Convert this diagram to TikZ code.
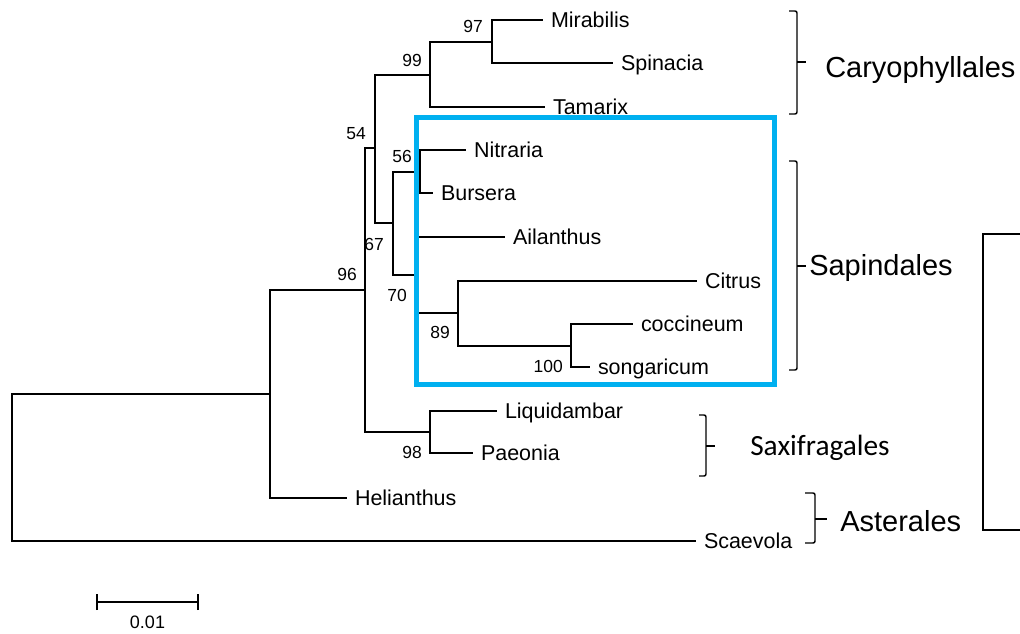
\documentclass[tikz,border=0pt]{standalone}
\usepackage{fontspec}
\setmainfont{Liberation Sans}
\newfontfamily\carl{Carlito}
\definecolor{boxblue}{RGB}{0,176,240}
\begin{document}
\begin{tikzpicture}[x=0.75pt,y=-0.75pt,
  branch/.style={line width=1.1pt, line join=miter},
  brk/.style={line width=1.1pt, rounded corners=1.5pt},
  taxon/.style={anchor=west, inner sep=0pt, xshift=5.8pt, font=\fontsize{16.1}{19}\selectfont, text height=11.5pt, text depth=0pt},
  boot/.style={anchor=east, inner sep=0pt, font=\fontsize{13.1}{15}\selectfont, text height=9.4pt, text depth=0pt},
  clade/.style={anchor=west, inner sep=0pt, font=\fontsize{21.75}{26}\selectfont, text height=15.6pt, text depth=0pt},
  hilite/.style={draw=boxblue, line width=3.75pt}]
\useasboundingbox (0,0) rectangle (1020,633);
% internal nodes
\coordinate (R) at (12,467.5);
\coordinate (A) at (270,394);
\coordinate (B) at (365,290);
\coordinate (C) at (375,148);
\coordinate (D) at (430,432);
\coordinate (J) at (430,75);
\coordinate (K) at (492,42);
\coordinate (E) at (393,223);
\coordinate (F) at (420,172);
\coordinate (G) at (416,275);
\coordinate (H) at (458,313);
\coordinate (I) at (571,346);
% tips
\coordinate (tMir) at (543,20);
\coordinate (tSpi) at (613,63);
\coordinate (tTam) at (545,107);
\coordinate (tNit) at (466,150);
\coordinate (tBur) at (433,193);
\coordinate (tAil) at (505,237);
\coordinate (tCit) at (697,281);
\coordinate (tCoc) at (633,324);
\coordinate (tSon) at (590,367);
\coordinate (tLiq) at (497,411);
\coordinate (tPae) at (473,453);
\coordinate (tHel) at (347,498);
\coordinate (tSca) at (696,541);
% branches
\draw[branch] (R) |- (A);
\draw[branch] (R) |- (tSca);
\draw[branch] (A) |- (B);
\draw[branch] (A) |- (tHel);
\draw[branch] (B) |- (C);
\draw[branch] (B) |- (D);
\draw[branch] (C) |- (J);
\draw[branch] (C) |- (E);
\draw[branch] (J) |- (K);
\draw[branch] (J) |- (tTam);
\draw[branch] (K) |- (tMir);
\draw[branch] (K) |- (tSpi);
\draw[branch] (E) |- (F);
\draw[branch] (E) |- (G);
\draw[branch] (F) |- (tNit);
\draw[branch] (F) |- (tBur);
\draw[branch] (G) |- (tAil);
\draw[branch] (G) |- (H);
\draw[branch] (H) |- (tCit);
\draw[branch] (H) |- (I);
\draw[branch] (I) |- (tCoc);
\draw[branch] (I) |- (tSon);
\draw[branch] (D) |- (tLiq);
\draw[branch] (D) |- (tPae);
% taxon labels
\node[taxon] (lMir) at (tMir) {Mirabilis};
\node[taxon] (lSpi) at (tSpi) {Spinacia};
\node[taxon] (lTam) at (tTam) {Tamarix};
\node[taxon] (lNit) at (tNit) {Nitraria};
\node[taxon] (lBur) at (tBur) {Bursera};
\node[taxon] (lAil) at (tAil) {Ailanthus};
\node[taxon] (lCit) at (tCit) {Citrus};
\node[taxon] (lCoc) at (tCoc) {coccineum};
\node[taxon] (lSon) at (tSon) {songaricum};
\node[taxon] (lLiq) at (tLiq) {Liquidambar};
\node[taxon] (lPae) at (tPae) {Paeonia};
\node[taxon] (lHel) at (tHel) {Helianthus};
\node[taxon] (lSca) at (tSca) {Scaevola};
% bootstrap values
\node[boot] (bB) at ([shift={(-8,-16)}]B) {96};
\node[boot] (bC) at ([shift={(-9,-15)}]C) {54};
\node[boot] (bJ) at ([shift={(-8,-15)}]J) {99};
\node[boot] (bK) at ([shift={(-9,-16)}]K) {97};
\node[boot] (bF) at ([shift={(-8,-15.5)}]F) {56};
\node[boot] (bE) at ([shift={(-9,21)}]E) {67};
\node[boot] (bG) at ([shift={(-9,20)}]G) {70};
\node[boot] (bH) at ([shift={(-8,19)}]H) {89};
\node[boot] (bI) at ([shift={(-8,20)}]I) {100};
\node[boot] (bD) at ([shift={(-8,20)}]D) {98};
% highlight box
\draw[hilite] (416,117) rectangle (774,384);
% brackets
\draw[brk] (789,11) -- (797,11) -- (797,114) -- (789,114);
\draw[brk] (797,62) -- (806,62);
\node[clade] (cCar) at (825,67) {Caryophyllales};
\draw[brk] (789,161) -- (797,161) -- (797,370) -- (789,370);
\draw[brk] (797,266) -- (806,266);
\node[clade] (cSap) at (809,265) {Sapindales};
\draw[brk] (699,415) -- (706,415) -- (706,476) -- (699,476);
\draw[brk] (706,446) -- (715,446);
\node[anchor=west, inner sep=0pt, font=\carl\fontsize{22}{26}\selectfont, text height=14.2pt, text depth=0pt] (cSax) at (750,446) {Saxifragales};
\draw[brk] (805,493) -- (815,493) -- (815,543) -- (805,543);
\draw[brk] (815,519) -- (827,519);
\node[clade] (cAst) at (840,521) {Asterales};
% large bracket on right
\draw[line width=1.1pt] (1022,234) -- (983,234) -- (983,530) -- (1022,530);
% scale bar
\coordinate (sbL) at (97,602);
\coordinate (sbR) at (198,602);
\draw[branch] (sbL) -- (sbR);
\draw[branch] ([yshift=-8*0.75pt]sbL) -- ([yshift=8*0.75pt]sbL);
\draw[branch] ([yshift=-8*0.75pt]sbR) -- ([yshift=8*0.75pt]sbR);
\node[inner sep=0pt, font=\fontsize{13.5}{16}\selectfont] (sbT) at (147.5,622) {0.01};
\end{tikzpicture}
\end{document}
